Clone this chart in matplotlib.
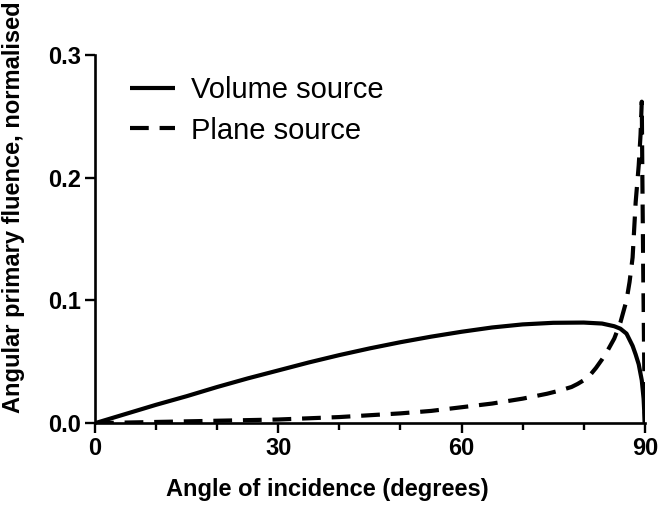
import numpy as np
import matplotlib
matplotlib.use('Agg')
import matplotlib.pyplot as plt
from matplotlib.ticker import MultipleLocator

plt.rcParams['font.family'] = ['Liberation Sans', 'DejaVu Sans']

# Volume source curve (angle in degrees, normalised fluence)
vol_angle = [0, 5, 10, 15, 20, 25, 30, 35, 40, 45, 50, 55, 60, 65, 70, 75,
             80, 83, 85, 86, 87, 88, 88.5, 89, 89.5, 89.8, 90]
vol_value = [0, 0.0075, 0.015, 0.022, 0.0295, 0.0365, 0.043, 0.0495, 0.0555,
             0.061, 0.066, 0.0705, 0.0745, 0.078, 0.0805, 0.0818, 0.082,
             0.0812, 0.079, 0.077, 0.073, 0.063, 0.056, 0.048, 0.035, 0.02, 0]

# Plane source curve
plane_angle = [0, 10, 20, 30, 40, 45, 50, 55, 60, 65, 70, 74, 76, 78, 79, 80,
               81, 82, 83, 84, 85, 86, 87, 87.5, 88, 88.5, 89, 89.3, 89.5,
               89.6, 89.75, 89.9, 90]
plane_value = [0, 0.001, 0.002, 0.003, 0.005, 0.0065, 0.008, 0.010, 0.013,
               0.016, 0.020, 0.024, 0.0265, 0.0295, 0.032, 0.035, 0.039,
               0.045, 0.052, 0.060, 0.069, 0.082, 0.10, 0.115, 0.135, 0.18,
               0.21, 0.235, 0.262, 0.2, 0.12, 0.05, 0]

fig = plt.figure(figsize=(6.6, 5.05), dpi=100)
ax = fig.add_axes([0.144, 0.162, 0.833, 0.729])

ax.plot(vol_angle, vol_value, color='black', lw=3, label='Volume source',
        solid_capstyle='butt')
ax.plot(plane_angle, plane_value, color='black', lw=3, linestyle=(0, (4.5, 2.6)),
        label='Plane source')

ax.set_xlim(0, 90)
ax.set_ylim(0, 0.3)
ax.xaxis.set_major_locator(MultipleLocator(30))
ax.xaxis.set_minor_locator(MultipleLocator(10))
ax.yaxis.set_major_locator(MultipleLocator(0.1))
ax.yaxis.set_major_formatter(plt.FormatStrFormatter('%.1f'))

for side in ['top', 'right']:
    ax.spines[side].set_visible(False)
for side in ['left', 'bottom']:
    ax.spines[side].set_linewidth(1.9)

ax.tick_params(which='major', length=7, width=1.7, labelsize=17, pad=3)
ax.tick_params(which='minor', length=5, width=1.7)
for lab in ax.get_xticklabels() + ax.get_yticklabels():
    lab.set_fontweight('bold')

ax.set_xlabel('Angle of incidence (degrees)', fontsize=17, fontweight='bold')
ax.set_ylabel('Angular primary fluence, normalised', fontsize=17, fontweight='bold')
ax.xaxis.set_label_coords(0.422, -0.149)
ax.yaxis.set_label_coords(-0.127, 0.587)

ax.legend(loc='upper left', bbox_to_anchor=(0.064, 0.942), frameon=False,
          fontsize=21, handlelength=1.55, handletextpad=0.55, labelspacing=0.42,
          borderpad=0, borderaxespad=0)

fig.savefig('out.png', dpi=100)
